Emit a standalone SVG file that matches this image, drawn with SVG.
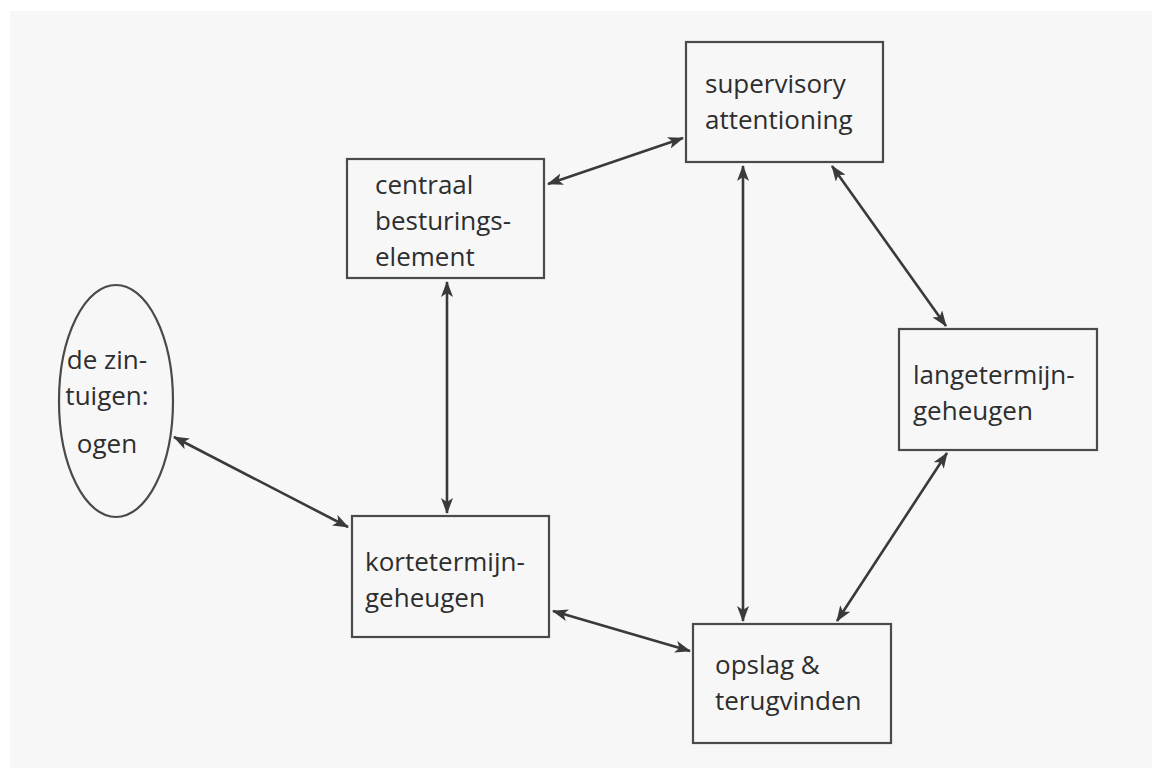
<svg xmlns="http://www.w3.org/2000/svg" width="1157" height="768" viewBox="0 0 1157 768">
  <defs>
    <style>
      .box { fill: none; stroke: #4a4a4a; stroke-width: 2.2; }
      .lbl { font-family: "Open Sans", "Noto Sans", "Liberation Sans", sans-serif; font-size: 26px; fill: #2e2e2e; }
      .mid { text-anchor: middle; }
      .link { fill: none; stroke: #3a3a3a; stroke-width: 2.6; marker-start: url(#head); marker-end: url(#head); }
    </style>
    <marker id="head" viewBox="0 0 16 12" refX="15" refY="6" markerWidth="16" markerHeight="12" markerUnits="userSpaceOnUse" orient="auto-start-reverse">
      <path d="M0,0 L16,6 L0,12 L4,6 Z" fill="#3a3a3a"/>
    </marker>
  </defs>

  <!-- page -->
  <rect x="0" y="0" width="1157" height="768" fill="#ffffff"/>
  <rect x="10" y="11" width="1142" height="757" fill="#f7f7f8"/>

  <!-- connectors -->
  <g id="connectors">
    <line class="link" x1="548" y1="184" x2="683" y2="138"/>
    <line class="link" x1="447" y1="282" x2="447" y2="513"/>
    <line class="link" x1="174" y1="437" x2="348" y2="527"/>
    <line class="link" x1="743" y1="166" x2="743" y2="621"/>
    <line class="link" x1="832" y1="166" x2="946" y2="326"/>
    <line class="link" x1="947" y1="453" x2="837" y2="621"/>
    <line class="link" x1="553" y1="611" x2="690" y2="651"/>
  </g>

  <g id="supervisory">
    <rect class="box" x="686" y="42" width="197" height="120"/>
    <text class="lbl" x="705" y="93">supervisory</text>
    <text class="lbl" x="705" y="129">attentioning</text>
  </g>

  <g id="centraal">
    <rect class="box" x="347" y="159" width="197" height="119"/>
    <text class="lbl" x="375" y="194">centraal</text>
    <text class="lbl" x="375" y="230">besturings-</text>
    <text class="lbl" x="375" y="266">element</text>
  </g>

  <g id="zintuigen">
    <ellipse class="box" cx="116" cy="401" rx="57" ry="116"/>
    <text class="lbl mid" x="107" y="369">de zin-</text>
    <text class="lbl mid" x="107" y="405">tuigen:</text>
    <text class="lbl mid" x="107" y="453">ogen</text>
  </g>

  <g id="langetermijn">
    <rect class="box" x="899" y="329" width="198" height="121"/>
    <text class="lbl" x="913" y="384">langetermijn-</text>
    <text class="lbl" x="913" y="420">geheugen</text>
  </g>

  <g id="kortetermijn">
    <rect class="box" x="352" y="516" width="197" height="121"/>
    <text class="lbl" x="365" y="571">kortetermijn-</text>
    <text class="lbl" x="365" y="607">geheugen</text>
  </g>

  <g id="opslag">
    <rect class="box" x="693" y="624" width="198" height="119"/>
    <text class="lbl" x="715" y="674">opslag &amp;</text>
    <text class="lbl" x="715" y="710">terugvinden</text>
  </g>
</svg>
